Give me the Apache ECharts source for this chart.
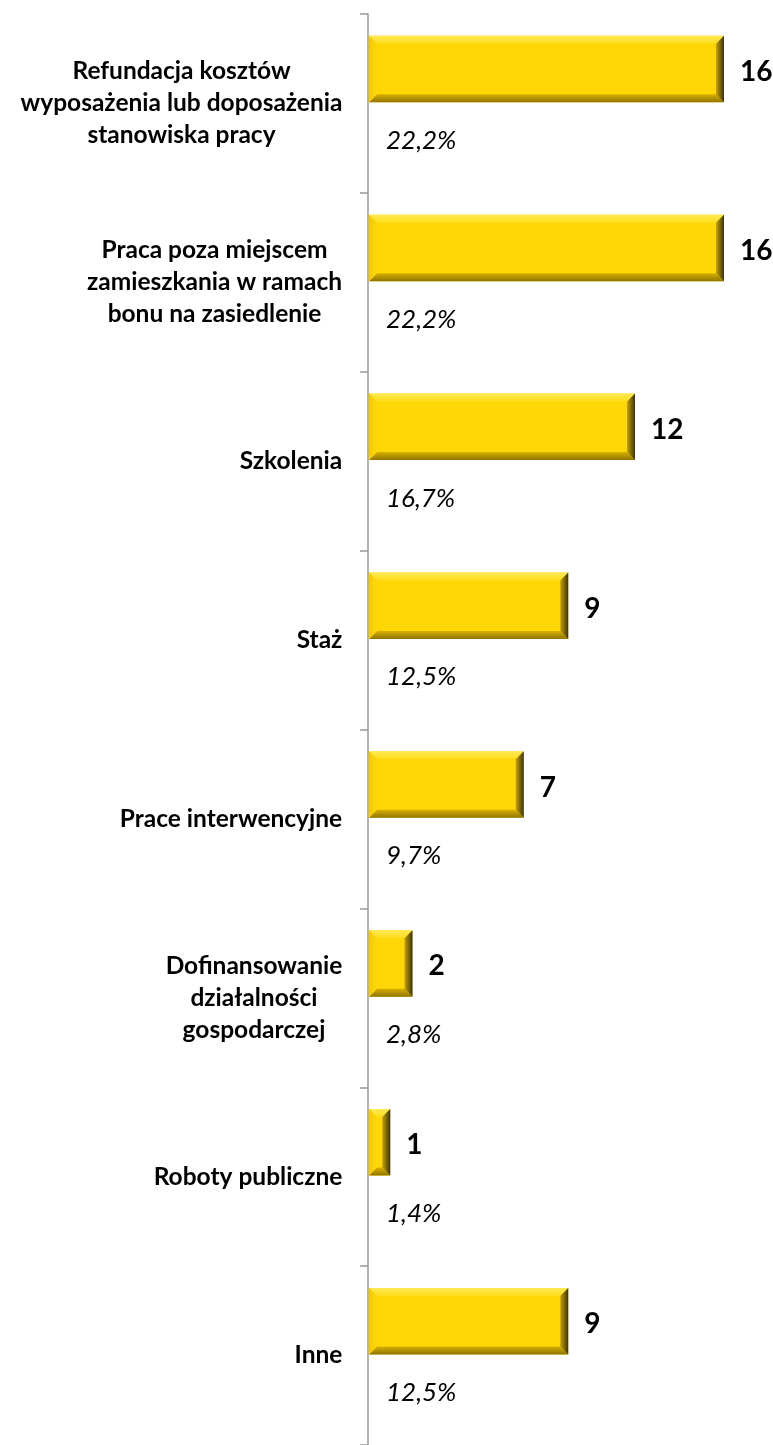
<!DOCTYPE html>
<html>
<head>
<meta charset="utf-8">
<script src="https://cdn.jsdelivr.net/npm/echarts@6/dist/echarts.min.js"></script>
<style>html,body{margin:0;padding:0;background:#fff}#c{width:773px;height:1445px}</style>
</head>
<body>
<div id="c"></div>
<script>
var categories = [
  'Refundacja kosztów\nwyposażenia lub doposażenia\nstanowiska pracy',
  'Praca poza miejscem\nzamieszkania w ramach\nbonu na zasiedlenie',
  'Szkolenia',
  'Staż',
  'Prace interwencyjne',
  'Dofinansowanie\ndziałalności\ngospodarczej',
  'Roboty publiczne',
  'Inne'
];
var counts = [16, 16, 12, 9, 7, 2, 1, 9];
var percents = ['22,2%', '22,2%', '16,7%', '12,5%', '9,7%', '2,8%', '1,4%', '12,5%'];

var FONT = 'Lato';
var LABEL_SIZE = 24.5;
var chart = echarts.init(document.getElementById('c'), null, {renderer: 'canvas'});

// measure label block widths so that lines can be centred within a right-aligned block
var mctx = document.createElement('canvas').getContext('2d');
mctx.font = 'bold ' + LABEL_SIZE + 'px ' + FONT;
var rich = {};
categories.forEach(function (c, i) {
  var w = 0;
  c.split('\n').forEach(function (l) { w = Math.max(w, mctx.measureText(l).width); });
  rich['c' + i] = {width: Math.ceil(w) + 1, align: 'center', fontFamily: FONT, fontWeight: 'bold',
    fontSize: LABEL_SIZE, lineHeight: 32, color: '#000'};
});

function grad(x, y, x2, y2, c0, c1) {
  return {type: 'linear', x: x, y: y, x2: x2, y2: y2, colorStops: [{offset: 0, color: c0}, {offset: 1, color: c1}]};
}

function renderItem(params, api) {
  var idx = api.value(0);
  var val = api.value(1);
  var p0 = api.coord([0, idx]);
  var p1 = api.coord([val, idx]);
  var band = api.size([0, 1])[1];
  var yc = p0[1];
  var y0 = yc - band * 0.378;
  var h = band * 0.372;
  var x0 = p0[0] + 1;
  var x1 = p1[0];
  var w = x1 - x0;
  var b = Math.min(8, w / 2);
  var y1 = y0 + h;
  var children = [
    {type: 'rect', shape: {x: x0, y: y0, width: w, height: h}, style: {fill: '#FFD706'}},
    {type: 'polygon', shape: {points: [[x0, y0], [x1, y0], [x1 - b, y0 + b], [x0 + b, y0 + b]]},
      style: {fill: grad(0, 0, 0, 1, '#FFEA55', '#FFDC1A')}},
    {type: 'polygon', shape: {points: [[x0, y1], [x1, y1], [x1 - b, y1 - b], [x0 + b, y1 - b]]},
      style: {fill: grad(0, 0, 0, 1, '#D8B000', '#8E7400')}},
    {type: 'polygon', shape: {points: [[x0, y0], [x0 + b, y0 + b], [x0 + b, y1 - b], [x0, y1]]},
      style: {fill: grad(0, 0, 1, 0, '#F2C800', '#FFD80A')}},
    {type: 'polygon', shape: {points: [[x1, y0], [x1 - b, y0 + b], [x1 - b, y1 - b], [x1, y1]]},
      style: {fill: grad(0, 0, 1, 0, '#C9A200', '#3E3300')}},
    {type: 'text', style: {x: x1 + 16, y: y0 + h / 2 + 3, text: String(val), fill: '#000',
      font: 'bold 28px ' + FONT, textAlign: 'left', textVerticalAlign: 'middle'}},
    {type: 'text', style: {x: p0[0] + 18, y: yc + 37, text: percents[idx], fill: '#000',
      font: 'italic 26px ' + FONT, textAlign: 'left', textVerticalAlign: 'middle'}}
  ];
  return {type: 'group', children: children};
}

var data = counts.map(function (v, i) { return [i, v]; });

chart.setOption({
  animation: false,
  backgroundColor: '#ffffff',
  grid: {left: 368, right: 49, top: 14, height: 1440, containLabel: false},
  xAxis: {type: 'value', min: 0, max: 16, show: false},
  yAxis: {
    type: 'category',
    data: categories,
    inverse: true,
    axisLine: {show: true, lineStyle: {color: '#9a9a9a', width: 1.5}},
    axisTick: {show: true, length: 8, lineStyle: {color: '#9a9a9a', width: 1.5}},
    axisLabel: {
      margin: 25, fontFamily: FONT, fontWeight: 'bold', fontSize: LABEL_SIZE, lineHeight: 32,
      color: '#000', align: 'right',
      formatter: function (value, index) {
        return value.split('\n').map(function (l) { return '{c' + index + '|' + l + '}'; }).join('\n');
      },
      rich: rich
    },
    splitLine: {show: false}
  },
  series: [{
    type: 'custom',
    renderItem: renderItem,
    encode: {x: 1, y: 0},
    data: data,
    clip: false
  }]
});
</script>
</body>
</html>
